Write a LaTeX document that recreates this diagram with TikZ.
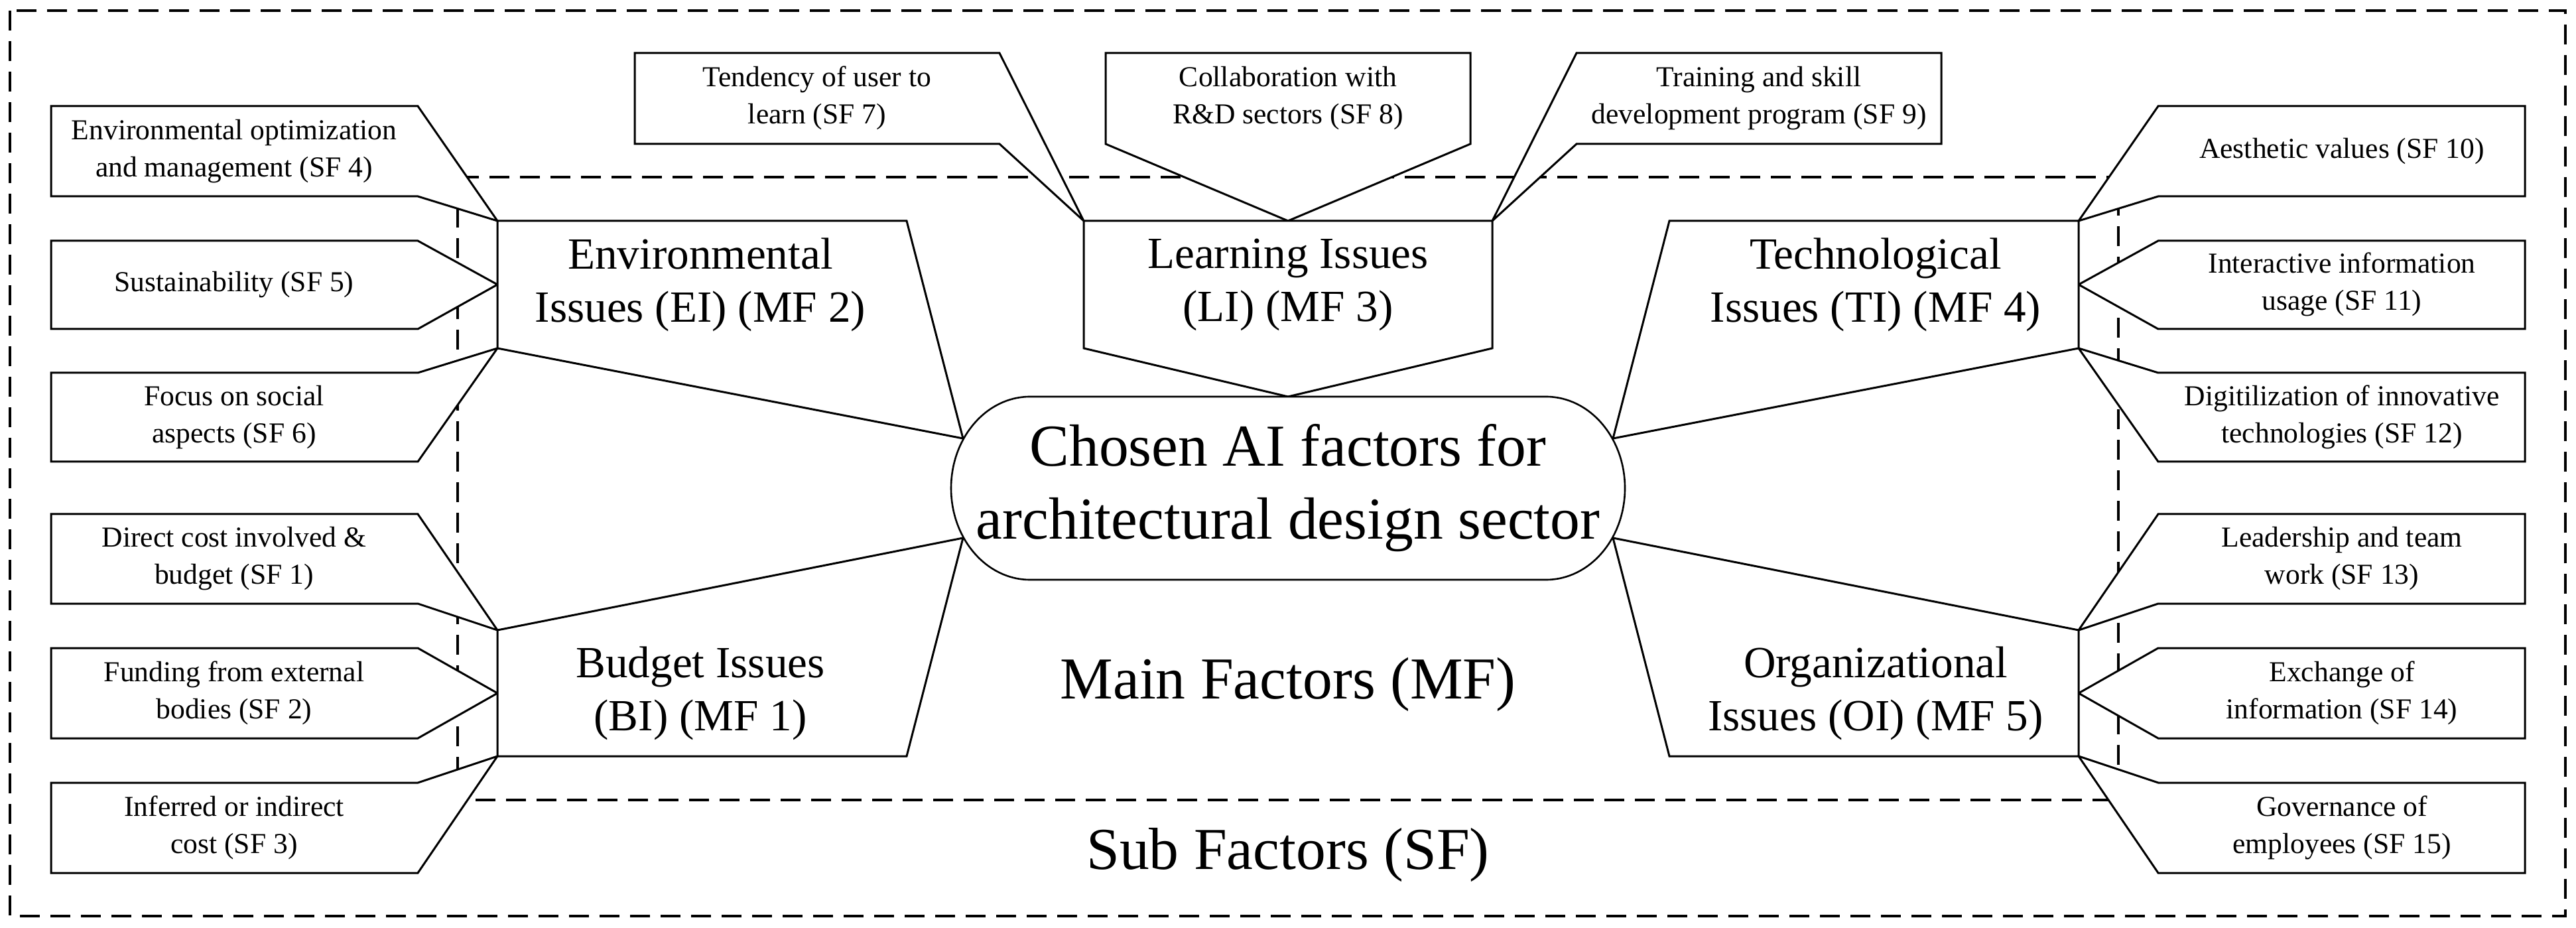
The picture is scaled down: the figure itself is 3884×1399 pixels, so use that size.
\documentclass[tikz,border=0pt]{standalone}
\usepackage{fontspec}
\setmainfont{Liberation Serif}
\begin{document}
\begin{tikzpicture}[x=0.25pt,y=-0.25pt,
  frame/.style={dash pattern=on 7.5pt off 4pt, line width=0.9pt},
  callout/.style={draw, fill=white, line width=0.75pt, line join=miter},
  hub/.style={draw, fill=white, line width=0.65pt},
  sftext/.style={inner sep=0pt, align=center, font=\fontsize{10.9}{14}\selectfont},
  mftext/.style={inner sep=0pt, align=center, font=\fontsize{16.8}{20}\selectfont},
  bigtext/.style={inner sep=0pt, align=center, font=\fontsize{22.4}{27.5}\selectfont}]
\useasboundingbox (0,0) rectangle (3884,1399);
\fill[white] (0,0) rectangle (3884,1399);

% dashed frames
\draw[frame] (15,16) rectangle (3868,1381);
\draw[frame] (690,267) rectangle (3194,1206);

% tips on main factor boxes / hub
\coordinate (eiTL) at (750,333);  \coordinate (eiL) at (750,429);  \coordinate (eiBL) at (750,525);
\coordinate (biTL) at (750,950);  \coordinate (biL) at (750,1045); \coordinate (biBL) at (750,1140);
\coordinate (tiTR) at (3134,333); \coordinate (tiR) at (3134,429); \coordinate (tiBR) at (3134,525);
\coordinate (oiTR) at (3134,950); \coordinate (oiR) at (3134,1045);\coordinate (oiBR) at (3134,1140);
\coordinate (liTL) at (1634,333); \coordinate (liT) at (1942,333); \coordinate (liTR) at (2250,333);
\coordinate (hubT) at (1942,598);
\coordinate (hubLT) at (1452,661); \coordinate (hubLB) at (1452,811);
\coordinate (hubRT) at (2432,661); \coordinate (hubRB) at (2432,811);

% left sub factor callouts
\draw[callout] (77,160) -- (630,160) -- (eiTL) -- (630,296) -- (77,296) -- cycle;
\draw[callout] (77,363) -- (630,363) -- (eiL) -- (630,496) -- (77,496) -- cycle;
\draw[callout] (77,562) -- (630,562) -- (eiBL) -- (630,696) -- (77,696) -- cycle;
\draw[callout] (77,775) -- (630,775) -- (biTL) -- (630,910) -- (77,910) -- cycle;
\draw[callout] (77,977) -- (630,977) -- (biL) -- (630,1113) -- (77,1113) -- cycle;
\draw[callout] (77,1180) -- (630,1180) -- (biBL) -- (630,1316) -- (77,1316) -- cycle;

% right sub factor callouts
\draw[callout] (3807,160) -- (3254,160) -- (tiTR) -- (3254,296) -- (3807,296) -- cycle;
\draw[callout] (3807,363) -- (3254,363) -- (tiR) -- (3254,496) -- (3807,496) -- cycle;
\draw[callout] (3807,562) -- (3254,562) -- (tiBR) -- (3254,696) -- (3807,696) -- cycle;
\draw[callout] (3807,775) -- (3254,775) -- (oiTR) -- (3254,910) -- (3807,910) -- cycle;
\draw[callout] (3807,977) -- (3254,977) -- (oiR) -- (3254,1113) -- (3807,1113) -- cycle;
\draw[callout] (3807,1180) -- (3254,1180) -- (oiBR) -- (3254,1316) -- (3807,1316) -- cycle;

% top sub factor callouts
\draw[callout] (957,80) -- (1507,80) -- (liTL) -- (1507,217) -- (957,217) -- cycle;
\draw[callout] (1667,80) -- (2217,80) -- (2217,217) -- (liT) -- (1667,217) -- cycle;
\draw[callout] (2377,80) -- (2927,80) -- (2927,217) -- (2377,217) -- (liTR) -- cycle;

% main factor callouts
\draw[callout] (eiTL) -- (1367,333) -- (hubLT) -- (eiBL) -- cycle;
\draw[callout] (liTL) -- (liTR) -- (2250,525) -- (hubT) -- (1634,525) -- cycle;
\draw[callout] (2517,333) -- (tiTR) -- (tiBR) -- (hubRT) -- cycle;
\draw[callout] (biTL) -- (hubLB) -- (1367,1140) -- (biBL) -- cycle;
\draw[callout] (oiTR) -- (oiBR) -- (2517,1140) -- (hubRB) -- cycle;

% central hub
\draw[hub] (1553,598) -- (2331,598)
  arc[start angle=90, end angle=-90, x radius=29.75pt, y radius=34.5pt]
  -- (1553,874)
  arc[start angle=270, end angle=90, x radius=29.75pt, y radius=34.5pt] -- cycle;

% texts
\node[bigtext] (hub) at (1942,736) {Chosen AI factors for\\architectural design sector};
\node[bigtext] (mflabel) at (1942,1032) {Main Factors (MF)};
\node[bigtext] (sflabel) at (1942,1289) {Sub Factors (SF)};

\node[mftext] (ei) at (1056,429) {Environmental\\Issues (EI) (MF 2)};
\node[mftext] (li) at (1942,429) {Learning Issues\\(LI) (MF 3)};
\node[mftext] (ti) at (2828,429) {Technological\\Issues (TI) (MF 4)};
\node[mftext] (bi) at (1056,1045) {Budget Issues\\(BI) (MF 1)};
\node[mftext] (oi) at (2828,1045) {Organizational\\Issues (OI) (MF 5)};

\node[sftext] (sf4) at (353,228) {Environmental optimization\\and management (SF 4)};
\node[sftext] (sf5) at (353,429) {Sustainability (SF 5)};
\node[sftext] (sf6) at (353,629) {Focus on social\\aspects (SF 6)};
\node[sftext] (sf1) at (353,842) {Direct cost involved \&\\budget (SF 1)};
\node[sftext] (sf2) at (353,1045) {Funding from external\\bodies (SF 2)};
\node[sftext] (sf3) at (353,1248) {Inferred or indirect\\cost (SF 3)};

\node[sftext] (sf7) at (1232,148) {Tendency of user to\\learn (SF 7)};
\node[sftext] (sf8) at (1942,148) {Collaboration with\\R\&D sectors (SF 8)};
\node[sftext] (sf9) at (2652,148) {Training and skill\\development program (SF 9)};

\node[sftext] (sf10) at (3531,228) {Aesthetic values (SF 10)};
\node[sftext] (sf11) at (3531,429) {Interactive information\\usage (SF 11)};
\node[sftext] (sf12) at (3531,629) {Digitilization of innovative\\technologies (SF 12)};
\node[sftext] (sf13) at (3531,842) {Leadership and team\\work (SF 13)};
\node[sftext] (sf14) at (3531,1045) {Exchange of\\information (SF 14)};
\node[sftext] (sf15) at (3531,1248) {Governance of\\employees (SF 15)};
\end{tikzpicture}
\end{document}
